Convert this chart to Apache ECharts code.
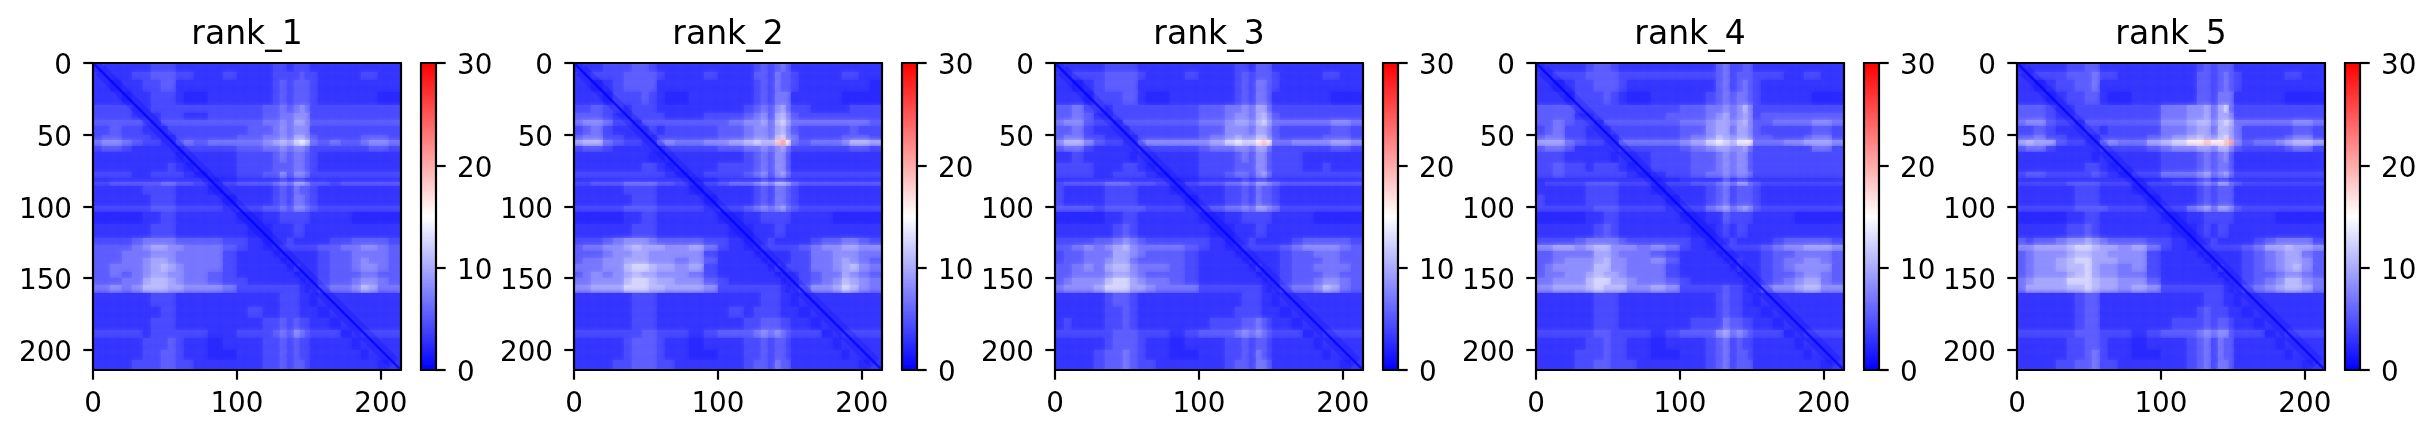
<!DOCTYPE html>
<html><head><meta charset="utf-8">
<style>html,body{margin:0;padding:0;background:#fff}#c{width:2435px;height:438px}</style>
<script src="https://cdn.jsdelivr.net/npm/echarts@6/dist/echarts.min.js"></script>
</head><body><div id="c"></div>
<script>
const panelNames = ["rank_1","rank_2","rank_3","rank_4","rank_5"];
const axisTicksX = [0,100,200];
const axisTicksY = [0,50,100,150,200];
const colorbarTicks = [0,10,20,30];
const residueEdgesX = [0,6,12,20,27,35,40,47,52,58,63,70,80,90,100,108,118,125,130,135,140,144,147,151,156,165,172,180,186,192,198,206,214];
const residueEdgesY = [0,6,12,20,29,35,40,44,50,54,58,62,70,76,80,83,86,92,100,104,112,122,127,131,136,140,146,150,155,160,170,178,186,192,200,207,214];
// each character is one estimated cell; it picks a value on the 0-30 scale from this list
const digitValues = [0,2.4,3.2,4.4,5.6,7,8.4,9.8,11,12.5,14,16,18,20];
const diagonalCore = [[1,1],[213,213]];
const diagonalBand = [[5,5],[209,209]];
const rank1 = [
"1222 2233 3222 2222 2332 3332 2222 2222","2222 3344 4332 2322 2333 3433 2222 3322","2212 2334 4222 2222 2343 4443 2222 2222","2221 2233 3211 2222 2343 4443 2222 2211",
"3333 2233 3333 3333 4454 5653 3333 3333","3333 2223 3322 3333 4455 6663 3333 3333","4444 4324 4444 4444 5565 7764 4444 4444","3343 3222 3333 3334 4565 6663 3333 3333",
"3443 3322 2333 3344 5565 7764 3333 4443","5665 4332 2454 5555 6787 9a95 4544 5665","3443 2222 2233 3344 5565 6653 3333 3443","2222 2222 2122 2233 3454 5543 2222 2222",
"2222 2222 3212 2233 3444 5543 2222 2222","3333 2233 3321 2233 4464 6653 3333 3333","2222 2222 2222 1122 2232 3322 2222 2222","3344 4445 5443 2344 4565 7764 4344 4444",
"2222 2333 3222 1222 2343 5443 2222 2222","2222 2233 3222 2122 2343 5543 2222 2222","3333 3344 4333 3233 4454 6654 3333 3333","1111 1223 3222 2211 2233 3332 2221 1111",
"2222 2233 3222 2221 1222 3322 2222 2222","3333 4555 5444 4332 1223 2222 2334 4443","4444 5677 6655 5432 1233 3333 4455 6654","4445 5566 6555 5322 2122 2222 3445 5554",
"4445 5677 6555 5322 2212 2222 3445 6554","4455 5678 7655 5322 2221 3222 3445 6654","4454 5677 6655 4322 2222 1222 3444 5544","4445 5788 7655 4332 2222 2122 3445 6654",
"5565 6888 7766 6533 3333 3212 4556 8755","2222 2233 3222 2222 2233 3221 2222 2222","2222 2223 3222 2223 2233 3222 1222 2222","2222 2233 3222 2222 3343 4332 2122 2222",
"3333 3233 3333 2233 3454 6543 3312 3333","2222 2333 4322 1222 3343 4332 2221 2222","2222 2334 4322 1122 3343 4332 2222 1222","2222 3334 4332 2222 3343 4432 2222 2212"];
const rank2 = [
"1223 3344 3222 2222 2343 4542 2222 2222","2233 3444 4322 2322 2443 5443 2222 3322","2212 3444 4222 2222 2343 5443 2222 2221","2221 3334 3211 2222 2343 5552 2222 1111",
"3343 3233 3222 2222 3454 6753 3222 2333","4443 2233 3322 2333 4564 7864 3333 3333","5665 3324 4444 4445 6675 8975 5555 5554","3453 2222 3233 3344 5665 7864 3333 3433",
"4553 3222 2333 3344 5665 8965 3333 4443","7885 4332 2565 5667 8988 cdb5 4555 6887","3443 2222 2233 3344 5565 6753 3333 3443","2222 2222 1122 2222 3454 6642 2222 2222",
"2222 2223 3212 2233 3454 6642 2222 2222","3333 3333 3321 2333 4564 6753 3333 3333","2222 2222 2222 1122 2232 3322 2222 2222","3344 4555 5443 2345 5676 8875 4444 4444",
"2222 2333 3222 1222 2343 5543 2222 2222","2222 2233 3222 2122 2343 5543 2222 2222","3333 3444 4333 3233 4565 6754 3333 3333","1111 1223 3222 2211 2233 3332 2221 1111",
"2222 2233 3222 2221 1222 3322 2222 2222","3334 5666 5444 4332 1223 2222 2344 5543","4556 6787 7766 7532 1233 3333 4566 7766","4445 6677 6666 6322 2122 2223 3556 6655",
"4556 6777 6665 6422 2212 2223 3556 7654","5556 6899 8776 7322 2221 3233 3556 7865","4565 6787 7666 5322 2222 1222 3455 7654","5566 6899 8776 6432 2222 2122 3456 8765",
"6677 7999 8877 7633 3333 3212 4667 9865","2222 2233 3222 2222 2233 3221 2222 2222","2222 2233 3222 2223 2333 3222 1222 2222","2222 2233 3222 2222 3344 4332 2122 2222",
"3333 3334 4333 2344 4565 6543 3312 3333","2222 2344 4322 1222 3343 4432 2221 2222","2222 2344 4322 1122 3343 4432 2222 1222","2222 3344 4332 2222 3443 5442 2222 2212"];
const rank3 = [
"1222 2333 3222 2222 2332 4442 2222 2222","2233 3444 4322 2322 2343 4443 2222 3322","2212 3444 4222 2222 2343 5543 2222 2222","2221 3334 4211 2222 2343 5542 2222 2111",
"4453 3233 3333 3344 5565 7753 3333 3333","4454 2233 3333 3344 5665 7864 3333 3333","5664 3324 4444 4455 6776 8975 5555 5665","4453 2222 3333 3344 6665 7764 3333 3443",
"4553 3222 2333 3345 6766 8864 3333 4443","6886 4332 2566 6667 9a99 bcb5 5666 6776","4553 2222 2333 3345 5665 7753 3333 3443","2232 2222 1222 2233 3454 6643 3322 2222",
"3333 2223 3212 2233 3444 6643 3322 3222","3333 2233 3321 2233 4554 6753 3333 3333","2222 2222 2222 1122 2232 3322 2222 2222","3444 4555 4443 2344 5565 7765 4444 4444",
"3222 2333 3222 1222 3343 5443 2222 2222","3222 2333 3222 2122 3343 5443 2222 2222","4444 3444 4433 3234 5565 7765 3333 3333","1111 1223 3222 2211 2233 3332 2221 1111",
"2222 2234 3222 2221 1222 3322 2222 2222","3333 4456 5433 3332 1223 2222 2344 4443","4456 5678 6555 5432 1233 3333 4566 6654","3445 5577 6544 4322 2122 2222 3445 5544",
"3445 5677 5444 4322 2212 2222 3444 5544","4456 5788 6555 4322 2221 3222 3445 5554","4455 5677 6544 4322 2222 1222 3444 5544","4566 6899 7655 4322 2222 2122 3445 6654",
"5666 7999 7765 5533 3333 3212 4556 8754","2222 2344 3222 2222 2233 3221 2222 2222","2222 2334 3222 2222 2333 3222 1222 2222","2322 2334 3222 2223 3344 5432 2122 2222",
"3333 3344 4333 2344 4565 6543 3312 3333","2222 2344 4322 1222 3343 4432 2221 2222","2222 3445 4322 1122 3343 5432 2222 1222","2222 3445 4332 2222 3443 5542 2222 2212"];
const rank4 = [
"1222 2344 3222 2222 2453 3442 2222 2222","2233 3444 4333 3333 3453 4443 3322 3322","2212 3344 4322 2222 2453 4543 2222 2222","2221 3334 3211 2222 3454 5543 2222 2111",
"4444 3333 3333 3344 5565 6863 3333 3333","4444 2233 3333 3444 5675 6763 4444 4444","4454 3324 4444 4455 6776 7864 4555 5665","3453 3222 3333 3344 6775 7764 3333 3443",
"4553 3222 2333 3345 6876 7764 4333 4553","7775 4332 2555 5567 9a98 aab5 5566 7776","4554 2222 2333 3345 6776 6753 3333 3553","3332 2222 1222 3334 4565 6643 3333 3333",
"3343 3233 3212 3334 4565 6643 3333 3333","3343 3333 3321 2334 5565 6653 3333 3333","2222 2222 2222 1122 2242 3322 2222 2222","2333 3444 4333 2334 4565 7754 3333 3333",
"2222 2333 3222 1222 3453 4443 2222 2222","3222 2333 3222 2122 3453 4443 2222 2222","3333 3344 4333 3233 5675 6764 3333 3333","1111 1223 3222 2211 2243 3332 2221 1111",
"2222 2234 3222 2221 1232 3322 2222 2222","3333 4555 5433 3332 1223 2222 2344 4443","6677 6788 6665 6532 1233 3333 4566 7776","4455 5577 6555 4322 2122 2222 3445 5554",
"4456 6678 6655 6422 2212 3222 3455 6654","4566 6688 6655 5322 2221 3222 3456 6664","4556 6787 7655 5322 2222 1222 3445 6654","5566 6899 7765 5432 2222 2122 3456 7754",
"6677 7898 8866 7633 3343 3212 5667 8866","2222 2233 3222 2222 2343 3221 2222 2222","2222 2233 3222 2222 2343 3222 1222 2222","2222 2233 3222 2223 3354 4332 2122 2222",
"3333 3344 3333 2344 4675 6543 3312 3333","2222 2334 3322 1222 3453 4332 2221 2222","2222 3334 3322 1122 3453 4432 2222 1222","2222 3344 3332 2222 3453 4442 2222 2212"];
const rank5 = [
"1222 2334 4222 2222 2343 4442 2222 2222","2233 3444 5332 2222 2443 4543 2222 3322","2212 3344 5222 2222 2443 4543 2222 2222","2221 2334 4211 2222 2443 5552 2222 1111",
"4443 2233 3333 3355 6675 7953 3333 3333","4443 2233 3333 3355 6675 7763 3333 3333","5664 3324 4444 4466 7886 8985 5555 5665","3343 2223 3233 3355 6775 8875 3333 3443",
"4453 3222 2333 3456 7876 8975 3333 4553","7877 4332 2565 5789 bbcb bcd6 4556 7887","4553 2222 2333 3456 6776 8864 3333 4553","2222 2222 1222 2233 3454 5642 2222 2222",
"2222 2223 3212 2233 3454 5542 2222 2222","3443 3333 4321 3355 5675 6753 3333 3333","2222 2222 2222 1122 2342 3322 2222 2222","3333 3444 4333 2334 4565 7754 3333 3333",
"2222 2233 3222 1222 2343 4442 2222 2222","2222 2233 3222 2122 2343 4442 2222 2222","3333 3344 4433 3233 5675 7764 3333 3333","1111 1223 3222 2211 2233 3332 2221 1111",
"2222 2334 3222 2221 1232 3322 2222 2222","4344 5667 6544 4332 1223 2222 2345 5553","6677 7899 8776 7532 1233 3333 4577 8776","4566 6788 7766 6322 2122 2222 3456 7754",
"4566 7899 7776 6322 2212 2222 3456 7764","4566 7889 7665 6322 2221 3222 3456 7864","4566 6789 7665 5322 2222 1222 3445 6654","5677 7999 8776 6422 2222 2122 3456 8865",
"5777 7889 8776 7633 3333 3212 4567 8875","2222 2234 4222 2222 2233 3221 2222 2222","2222 2234 4222 2222 2343 3322 1222 2222","2222 2234 4222 2223 3343 4432 2122 2222",
"3333 3344 4333 2344 4565 6643 3312 3333","2222 2334 4322 1222 3453 5442 2221 2222","2222 2334 5322 1122 3453 5442 2222 1222","2222 3344 5332 2222 3453 5542 2222 2212"];
const panelRows = [rank1,rank2,rank3,rank4,rank5];

const FONT = '"DejaVu Sans"', AW = 2.2, TL = 9.7, LS = 27.8;
const PW = 308, PH = 307, PT = 63, PL0 = 93, STEP = 481, CBX = 328, CBW = 15;
const grids=[],xAxes=[],yAxes=[],series=[],titles=[];
const cellSeries=[];
function mainAxis(pos,ticks,max,inverse){
  const vertical = pos==='left'||pos==='right';
  const label = {show:true,color:'#000',fontFamily:FONT,fontSize:LS,margin:21,customValues:ticks,hideOverlap:false};
  if(vertical){label.verticalAlign='top';label.lineHeight=8;}
  return {
  type:'value',position:pos,min:0,max:max,inverse:inverse,z:5,splitLine:{show:false},
  axisLine:{show:true,onZero:false,lineStyle:{color:'#000',width:AW}},
  axisTick:{show:true,length:TL,lineStyle:{color:'#000',width:AW},customValues:ticks},
  axisLabel:label
};}
function edgeAxis(pos,max,inverse){return {
  type:'value',position:pos,min:0,max:max,inverse:inverse,z:5,splitLine:{show:false},
  axisLine:{show:true,onZero:false,lineStyle:{color:'#000',width:AW}},
  axisTick:{show:false},axisLabel:{show:false}
};}
function softCell(params,api){
  const a=api.coord([api.value(0),api.value(2)]), b=api.coord([api.value(1),api.value(3)]);
  const x0=Math.round(a[0]),x1=Math.round(b[0]),y0=Math.round(Math.min(a[1],b[1])),y1=Math.round(Math.max(a[1],b[1]));
  const col=api.visual('color');
  return {type:'rect',shape:{x:x0,y:y0,width:x1-x0,height:y1-y0},style:{fill:col,shadowBlur:5,shadowColor:col}};
}
function flatCell(params,api){
  const a=api.coord([api.value(0),api.value(2)]), b=api.coord([api.value(1),api.value(3)]);
  const x0=Math.round(a[0]),x1=Math.round(b[0]),y0=Math.round(Math.min(a[1],b[1])),y1=Math.round(Math.max(a[1],b[1]));
  return {type:'rect',shape:{x:x0,y:y0,width:x1-x0,height:y1-y0},style:{fill:api.visual('color')}};
}
panelNames.forEach((name,i)=>{
  const left=PL0+i*STEP, g=grids.length;
  grids.push({left:left,top:PT,width:PW,height:PH,containLabel:false});
  xAxes.push(Object.assign(mainAxis('bottom',axisTicksX,214,false),{gridIndex:g}));
  xAxes.push(Object.assign(edgeAxis('top',214,false),{gridIndex:g}));
  yAxes.push(Object.assign(mainAxis('left',axisTicksY,214,true),{gridIndex:g}));
  yAxes.push(Object.assign(edgeAxis('right',214,true),{gridIndex:g}));
  const rows=panelRows[i].map(r=>r.replace(/ /g,''));
  const cells=[];
  rows.forEach((row,ry)=>{
    for(let cx=0;cx<residueEdgesX.length-1;cx++){
      cells.push([residueEdgesX[cx],residueEdgesX[cx+1],residueEdgesY[ry],residueEdgesY[ry+1],digitValues[parseInt(row[cx],16)]]);
    }
  });
  cellSeries.push(series.length);
  series.push({type:'custom',xAxisIndex:g*2,yAxisIndex:g*2,data:cells,encode:{x:[0,1],y:[2,3]},renderItem:softCell,animation:false,silent:true,clip:true,z:2});
  series.push({type:'line',xAxisIndex:g*2,yAxisIndex:g*2,data:diagonalBand,showSymbol:false,silent:true,animation:false,z:3,clip:true,lineStyle:{color:'#0000ff',width:13,opacity:0.2}});
  series.push({type:'line',xAxisIndex:g*2,yAxisIndex:g*2,data:diagonalCore,showSymbol:false,silent:true,animation:false,z:4,clip:true,lineStyle:{color:'#0000ff',width:2.5,opacity:0.75}});
  titles.push({text:name,left:left+PW/2,top:19,padding:0,textAlign:'center',textStyle:{fontFamily:FONT,fontSize:33,fontWeight:'normal',color:'#000'}});

  // colour bar
  const c=grids.length;
  grids.push({left:left+CBX,top:PT,width:CBW,height:PH});
  xAxes.push(Object.assign(edgeAxis('bottom',1,false),{gridIndex:c}));
  xAxes.push(Object.assign(edgeAxis('top',1,false),{gridIndex:c}));
  yAxes.push(Object.assign(edgeAxis('left',30,false),{gridIndex:c}));
  const cb=mainAxis('right',colorbarTicks,30,false);
  cb.gridIndex=c;
  yAxes.push(cb);
  const levels=[];
  for(let v=0;v<30;v+=0.125){levels.push([0,1,v,v+0.125,v+0.0625]);}
  cellSeries.push(series.length);
  series.push({type:'custom',xAxisIndex:c*2,yAxisIndex:c*2,data:levels,encode:{x:[0,1],y:[2,3]},renderItem:flatCell,animation:false,silent:true,clip:true,z:2});
});
const chart=echarts.init(document.getElementById('c'),null,{renderer:'canvas',width:2435,height:438,devicePixelRatio:1});
chart.setOption({
  animation:false,backgroundColor:'#fff',title:titles,grid:grids,xAxis:xAxes,yAxis:yAxes,series:series,
  visualMap:{show:false,type:'continuous',min:0,max:30,dimension:4,seriesIndex:cellSeries,inRange:{color:['#0000ff','#ffffff','#ff0000']}}
});
</script></body></html>
